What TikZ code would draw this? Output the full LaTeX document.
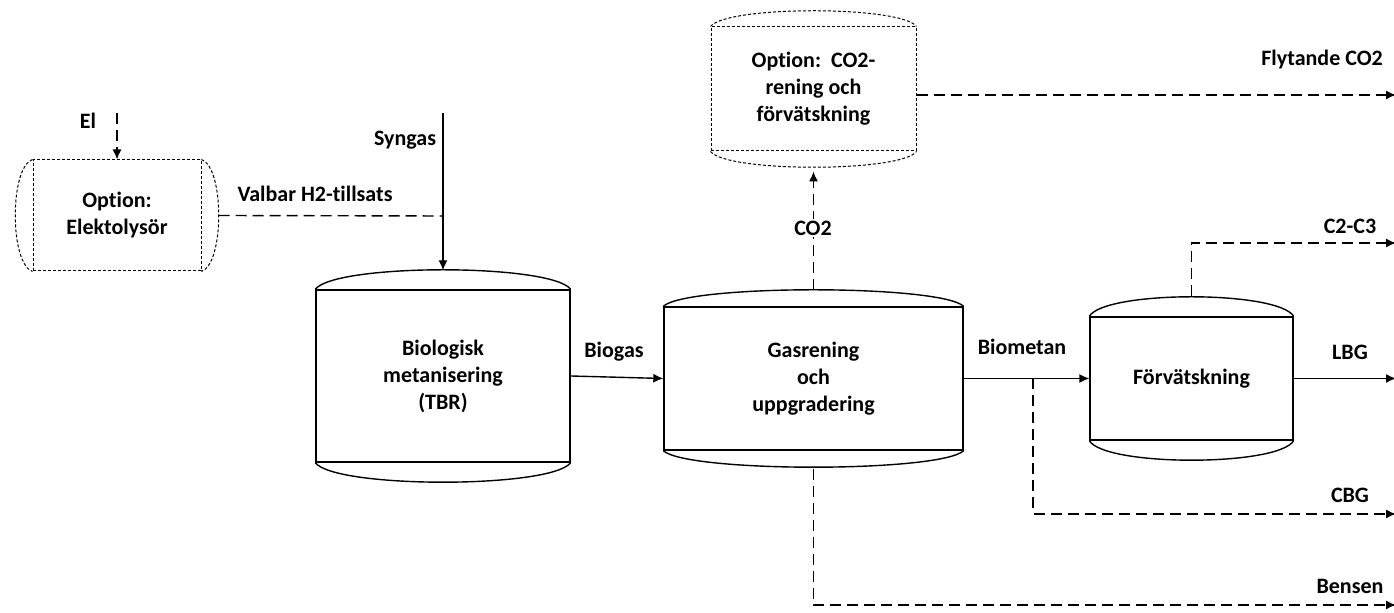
\documentclass[tikz,border=0pt]{standalone}
\usepackage{fontspec}
\setmainfont{Carlito}[Ligatures=CommonOff]
\usetikzlibrary{arrows.meta}

\tikzset{
  vessel/.style={draw, rectangle, align=center, inner sep=0pt, line width=0.7pt, font=\fontsize{11}{13.5}\selectfont\bfseries},
  optvessel/.style={vessel, line width=0.5pt, dash pattern=on 1.5pt off 1pt},
  flow/.style={-{Latex[length=5pt,width=4.5pt]}, line width=0.7pt},
  optflow/.style={flow, dash pattern=on 5.5pt off 3pt},
  optline/.style={line width=0.7pt, dash pattern=on 5.5pt off 3pt},
  lbl/.style={font=\fontsize{11}{13.5}\selectfont\bfseries}
}

% domed ends of a vessel: node, control dx, control dy (px)
\newcommand{\vcaps}[4][]{%
  \draw[line width=0.7pt,#1] (#2.north west) .. controls +(#3,-#4) and +(-#3,-#4) .. (#2.north east);
  \draw[line width=0.7pt,#1] (#2.south west) .. controls +(#3,#4) and +(-#3,#4) .. (#2.south east);}
\newcommand{\hcaps}[4][]{%
  \draw[line width=0.7pt,#1] (#2.north west) .. controls +(-#4,#3) and +(-#4,-#3) .. (#2.south west);
  \draw[line width=0.7pt,#1] (#2.north east) .. controls +(#4,#3) and +(#4,-#3) .. (#2.south east);}

\begin{document}
\begin{tikzpicture}[x=0.5pt, y=-0.5pt]
\useasboundingbox (0,0) rectangle (1394,613);

\node[optvessel, minimum width=84pt, minimum height=55.5pt] (elek) at (117,215.5) {Option:\\Elektolysör};
\hcaps[dash pattern=on 1.5pt off 1pt, line width=0.5pt]{elek}{8}{23}

\node[vessel, minimum width=127pt, minimum height=86pt] (tbr) at (443,376) {Biologisk\\metanisering\\(TBR)};
\vcaps{tbr}{20}{26}

\node[vessel, minimum width=149.5pt, minimum height=71.5pt] (gas) at (813.5,378.5) {Gasrening\\och\\uppgradering};
\vcaps{gas}{24}{22}

\node[optvessel, minimum width=102.5pt, minimum height=62pt] (co2) at (813.5,89) {Option:\ \ CO2-\\rening och\\förvätskning};
\vcaps[dash pattern=on 1.5pt off 1pt, line width=0.5pt]{co2}{16}{21}

\node[vessel, minimum width=101.5pt, minimum height=61.5pt] (forv) at (1191.5,378.5) {Förvätskning};
\vcaps{forv}{16}{26}

% in- and outlets
\coordinate (elin) at (117,113);
\coordinate (synin) at (443,113);
\coordinate (h2join) at (443,216);
\coordinate (outR) at (1396,0);
\coordinate (cbgsplit) at (1033,378.5);
\coordinate (c2out) at (1396,243);
\coordinate (cbgout) at (1396,514);
\coordinate (bensout) at (1396,605);

\draw[optflow] (elin) -- (elek.north);
\draw[optline] ([xshift=8.5pt]elek.east) -- (h2join);
\draw[flow] (synin) -- ([yshift=9.5pt]tbr.north);
\draw[flow] (tbr.east) -- (gas.west);
\draw[optflow] ([yshift=8pt]gas.north) -- ([yshift=-10pt]co2.south);
\draw[optflow] ([yshift=-3pt]co2.east) -- ([yshift=-3pt]co2.east -| outR);
\draw[flow] (gas.east) -- (forv.west);
\draw[flow] (forv.east) -- (forv.east -| outR);
\draw[optflow] ([yshift=10pt]forv.north) |- (c2out);
\draw[optflow] (cbgsplit) |- (cbgout);
\draw[optflow] ([yshift=-9pt]gas.south) |- (bensout);

\node[lbl] (lel) at (88,121) {El};
\node[lbl] (lh2) at (315,194) {Valbar H2-tillsats};
\node[lbl] (lsyn) at (405,140) {Syngas};
\node[lbl] (lbiogas) at (614,352) {Biogas};
\node[lbl, fill=white, inner sep=1pt] (lco2) at (813,228) {CO2};
\node[lbl] (lflyt) at (1322,60) {Flytande CO2};
\node[lbl] (lc2c3) at (1350,226) {C2-C3};
\node[lbl] (lbiomet) at (1022,347) {Biometan};
\node[lbl] (llbg) at (1350,352) {LBG};
\node[lbl] (lcbg) at (1350,495) {CBG};
\node[lbl] (lbens) at (1350,586) {Bensen};

\end{tikzpicture}
\end{document}
